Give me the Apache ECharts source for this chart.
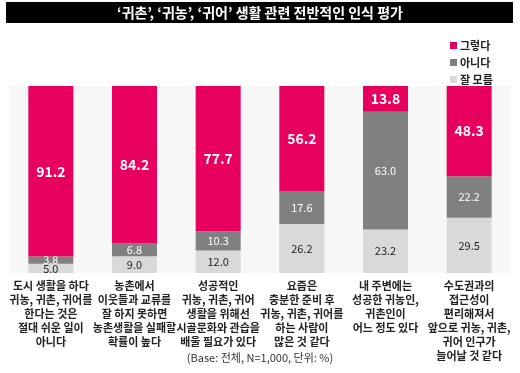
<!DOCTYPE html>
<html><head><meta charset="utf-8">
<script src="https://cdn.jsdelivr.net/npm/echarts@6/dist/echarts.min.js"></script>
<style>html,body{margin:0;padding:0;background:#fff}#c{width:520px;height:373px}</style>
</head><body><div id="c"></div>
<script>
const categories = [
  '도시 생활을 하다\n귀농, 귀촌, 귀어를\n한다는 것은\n절대 쉬운 일이\n아니다',
  '농촌에서\n이웃들과 교류를\n잘 하지 못하면\n농촌생활을 실패할\n확률이 높다',
  '성공적인\n귀농, 귀촌, 귀어\n생활을 위해선\n시골문화와 관습을\n배울 필요가 있다',
  '요즘은\n충분한 준비 후\n귀농, 귀촌, 귀어를\n하는 사람이\n많은 것 같다',
  '내 주변에는\n성공한 귀농인,\n귀촌인이\n어느 정도 있다',
  '수도권과의\n접근성이\n편리해져서\n앞으로 귀농, 귀촌,\n귀어 인구가\n늘어날 것 같다'
];
const yesValues = [91.2, 84.2, 77.7, 56.2, 13.8, 48.3];
const noValues = [3.8, 6.8, 10.3, 17.6, 63.0, 22.2];
const dkValues = [5.0, 9.0, 12.0, 26.2, 23.2, 29.5];
const seriesNames = ['그렇다', '아니다', '잘 모름'];
const titleText = '‘귀촌’, ‘귀농’, ‘귀어’ 생활 관련 전반적인 인식 평가';
const noteText = '(Base: 전체, N=1,000, 단위: %)';

const FONT = '"Noto Sans CJK KR", "Noto Sans", sans-serif';
const chart = echarts.init(document.getElementById('c'), null, {renderer: 'canvas'});
const fmt = p => p.value.toFixed(1);
chart.setOption({
  animation: false,
  textStyle: {fontFamily: FONT},
  graphic: [
    {type: 'rect', shape: {x: 6, y: 2, width: 507, height: 21}, style: {fill: '#000'}},
    {type: 'text', x: 260, y: 13, style: {text: titleText, fill: '#fff', font: 'bold 14px ' + FONT, textAlign: 'center', textVerticalAlign: 'middle'}},
    {type: 'text', x: 260, y: 358, style: {text: noteText, fill: '#333', font: '11px ' + FONT, textAlign: 'center', textVerticalAlign: 'middle'}}
  ],
  legend: {
    data: seriesNames,
    orient: 'vertical',
    left: 445, top: 35,
    itemWidth: 7, itemHeight: 7, itemGap: 6,
    icon: 'rect',
    textStyle: {fontSize: 11, color: '#222', fontFamily: FONT, fontWeight: 'bold', padding: [0,0,0,-2]}
  },
  grid: {left: 9, right: 9, top: 86, bottom: 100, show: true, backgroundColor: '#f7f7f7', borderWidth: 0},
  xAxis: {
    type: 'category', data: categories,
    axisLine: {show: false}, axisTick: {show: false},
    axisLabel: {interval: 0, color: '#222', fontSize: 11, fontWeight: 'bold', lineHeight: 14, margin: 6, verticalAlign: 'top', fontFamily: FONT}
  },
  yAxis: {type: 'value', min: 0, max: 100, show: false, splitLine: {show: false}},
  series: [
    {name: '잘 모름', type: 'bar', stack: 's', data: dkValues, barWidth: 45,
     itemStyle: {color: '#d9d9d9'},
     label: {show: true, position: 'inside', formatter: fmt, color: '#222', fontSize: 11, fontFamily: FONT}},
    {name: '아니다', type: 'bar', stack: 's', data: noValues, barWidth: 45,
     itemStyle: {color: '#808080'},
     label: {show: true, position: 'inside', formatter: fmt, color: '#fff', fontSize: 11, fontFamily: FONT}},
    {name: '그렇다', type: 'bar', stack: 's', data: yesValues, barWidth: 45,
     itemStyle: {color: '#e8005e'},
     label: {show: true, position: 'inside', formatter: fmt, color: '#fff', fontSize: 14, fontWeight: 'bold', fontFamily: FONT}}
  ]
});
// legend colors differ slightly (lighter gray for 잘 모름)
</script></body></html>
